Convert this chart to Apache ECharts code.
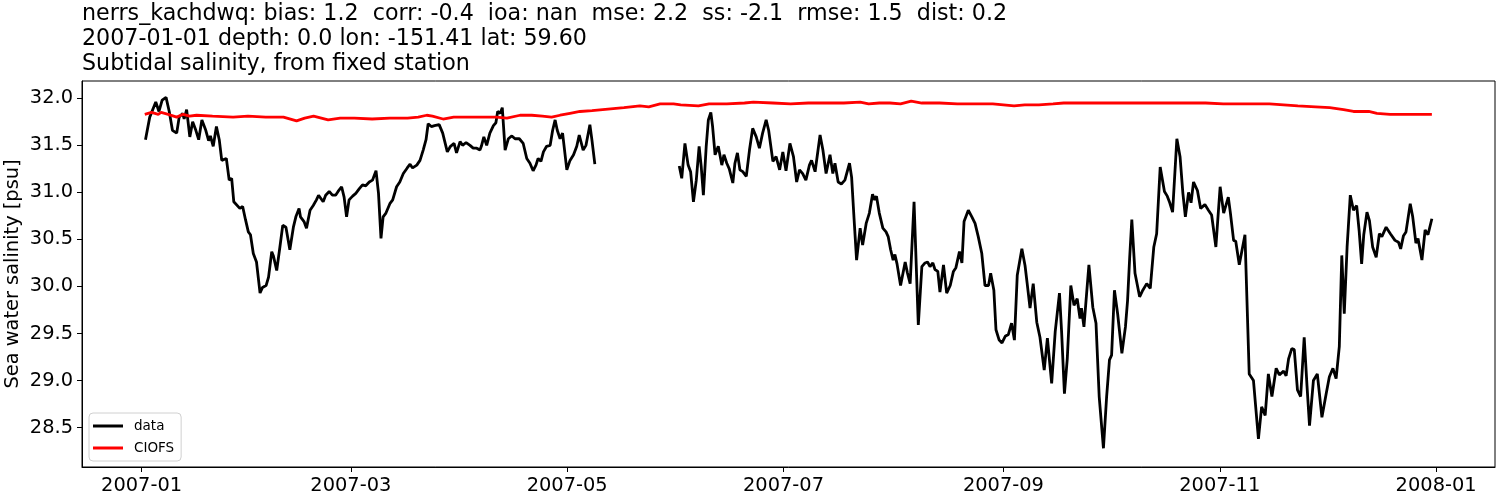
<!DOCTYPE html>
<html><head><meta charset="utf-8">
<script src="https://cdn.jsdelivr.net/npm/echarts@6/dist/echarts.min.js"></script>
<style>html,body{margin:0;padding:0;background:#fff}#c{width:1500px;height:500px}</style>
</head><body><div id="c"></div>
<script>
// days since 2007-01-01
const obsDays = [1.1,2.3,4.0,4.9,5.8,6.9,7.8,8.7,9.9,10.6,11.6,12.0,12.7,13.6,14.4,15.3,16.1,17.0,18.1,18.9,19.4,20.2,21.1,21.9,22.6,23.0,23.9,24.7,25.4,26.0,26.5,27.7,28.5,29.3,30.1,30.7,31.5,32.4,33.4,34.1,35.1,35.8,36.7,37.2,38.1,39.0,39.8,40.7,41.8,42.8,43.5,44.4,44.8,45.8,46.5,47.5,48.4,49.3,49.9,50.3,51.2,51.9,52.9,53.8,54.7,55.4,56.4,57.1,57.8,58.5,59.5,60.4,61.4,62.3,63.2,64.2,65.1,66.1,66.8,67.5,68.1,68.9,70.0,70.8,71.9,72.8,73.8,74.9,75.7,76.4,77.6,78.5,79.4,80.2,80.8,81.7,82.6,83.9,84.9,86.2,87.1,88.1,88.8,89.8,90.5,91.5,92.6,93.5,94.5,95.4,95.8,96.5,97.3,98.2,99.2,99.9,100.4,101.1,101.7,102.5,103.4,104.4,105.3,106.5,107.6,108.6,109.5,110.4,111.2,111.8,112.6,113.3,114.2,115.2,115.9,116.6,117.2,118.0,118.7,119.9,120.8,121.8,122.7,123.4,124.5,125.3,126.4,127.0,127.8,
140,
151.6,152.3,153.2,154.1,154.8,155.6,156.4,157.2,157.8,158.4,159.2,159.8,160.5,161.0,161.7,162.6,163.6,164.2,165.0,165.7,166.7,167.3,168.0,168.7,169.5,170.5,171.4,172.3,173.3,174.2,175.1,176.1,176.8,178.0,178.9,179.9,180.8,181.7,182.8,183.8,184.7,185.5,186.4,187.3,188.3,188.9,189.9,191.3,192.1,193.0,194.1,194.9,195.5,196.4,197.3,198.3,199.6,200.2,200.9,201.6,202.6,203.3,204.3,205.2,206.1,206.7,207.2,208.0,209.0,209.9,210.5,211.2,211.9,212.4,213.0,214.0,215.3,215.9,216.7,217.8,219.0,220.0,220.9,221.6,222.3,223.1,223.7,224.5,225.1,226.1,227.0,228.0,228.9,229.6,230.6,231.3,231.9,233.1,234.1,235.0,235.9,236.9,237.8,238.8,239.4,240.3,240.9,241.8,242.6,243.5,244.4,245.3,246.1,246.9,248.2,249.1,249.7,250.5,251.4,252.4,253.3,254.5,255.4,256.6,257.6,258.8,259.4,260.2,261.0,262.0,262.9,263.8,264.6,265.0,265.7,267.1,268.2,269.1,270.0,271.2,272.1,272.9,273.5,274.3,275.2,276.4,277.4,278.0,278.6,279.2,280.1,281.4,282.3,283.4,284.4,285.4,286.2,287.2,288.4,289.2,289.9,290.7,291.9,292.8,293.6,294.3,295.2,295.9,296.6,297.7,298.6,299.8,300.8,301.7,302.9,304.1,305.1,306.4,307.0,307.9,308.5,309.5,311.1,312.3,313.5,314.9,315.8,316.8,317.7,318.7,319.9,320.8,322.0,322.7,323.4,324.3,325.0,325.9,326.8,327.8,328.6,329.3,330.4,331.5,332.8,334.0,334.9,335.9,336.8,337.7,338.4,339.1,339.9,340.8,341.7,342.6,343.3,344.0,344.6,345.5,346.2,347.1,348.1,349.0,349.7,350.9,352.1,353.4,354.4,355.0,355.8,356.5,357.7,358.4,359.3,359.9,361.0,361.9,362.7,363.8];
const obsSalinity = [31.56,31.80,31.96,31.86,31.98,32.01,31.86,31.66,31.63,31.80,31.84,31.78,31.88,31.59,31.75,31.66,31.56,31.77,31.66,31.55,31.60,31.49,31.70,31.56,31.34,31.33,31.36,31.13,31.15,30.90,30.88,30.83,30.85,30.71,30.58,30.55,30.35,30.26,29.93,29.99,30.01,30.10,30.37,30.32,30.17,30.42,30.65,30.63,30.39,30.63,30.74,30.83,30.74,30.69,30.62,30.81,30.86,30.92,30.97,30.95,30.90,30.97,31.01,30.97,30.97,31.01,31.06,30.95,30.74,30.92,30.96,30.99,31.04,31.08,31.07,31.11,31.13,31.23,30.99,30.51,30.74,30.78,30.88,30.92,31.06,31.11,31.20,31.26,31.30,31.26,31.29,31.34,31.45,31.56,31.73,31.70,31.71,31.72,31.63,31.43,31.49,31.52,31.42,31.54,31.50,31.53,31.50,31.47,31.47,31.45,31.49,31.59,31.50,31.63,31.71,31.74,31.86,31.84,31.90,31.45,31.57,31.60,31.57,31.57,31.52,31.36,31.31,31.23,31.29,31.36,31.33,31.43,31.49,31.50,31.66,31.77,31.66,31.57,31.63,31.24,31.34,31.40,31.49,31.61,31.45,31.50,31.72,31.55,31.30,
null,
31.28,31.15,31.52,31.29,31.22,30.90,31.13,31.49,31.27,30.97,31.49,31.77,31.85,31.70,31.40,31.49,31.29,31.40,31.31,31.25,31.10,31.31,31.42,31.24,31.22,31.17,31.45,31.68,31.59,31.47,31.63,31.77,31.66,31.33,31.38,31.24,31.43,31.23,31.52,31.38,31.11,31.24,31.20,31.13,31.29,31.34,31.22,31.61,31.45,31.20,31.40,31.20,31.31,31.11,31.09,31.13,31.31,31.16,30.71,30.28,30.62,30.44,30.67,30.78,30.98,30.92,30.96,30.78,30.62,30.58,30.53,30.39,30.28,30.34,30.24,30.01,30.26,30.15,30.03,30.90,29.59,30.21,30.25,30.26,30.21,30.25,30.18,30.16,29.94,30.23,29.93,30.01,30.16,30.20,30.37,30.25,30.69,30.81,30.74,30.67,30.53,30.35,30.01,30.01,30.14,29.96,29.54,29.43,29.40,29.47,29.49,29.61,29.43,30.12,30.40,30.22,30.03,29.77,30.03,29.62,29.46,29.11,29.45,28.97,29.52,29.93,29.52,28.86,29.23,30.01,29.80,29.87,29.66,29.77,29.57,30.23,29.78,29.61,28.83,28.28,28.83,29.22,29.27,29.96,29.71,29.29,29.57,29.85,30.31,30.71,30.14,29.89,29.96,30.03,29.98,30.42,30.56,31.27,31.01,30.96,30.89,30.79,31.57,31.38,30.99,30.74,31.00,30.89,31.11,31.02,30.83,30.87,30.81,30.76,30.42,31.06,30.78,30.95,30.78,30.49,30.48,30.23,30.55,29.07,29.00,28.38,28.72,28.63,29.07,28.83,29.13,29.06,29.10,29.05,29.23,29.34,29.33,28.90,28.83,29.46,28.94,28.52,29.00,29.07,28.61,28.86,29.04,29.13,29.02,29.36,30.33,29.71,30.42,30.97,30.81,30.86,30.59,30.24,30.55,30.79,30.70,30.42,30.31,30.56,30.53,30.63,30.56,30.49,30.47,30.40,30.54,30.58,30.88,30.74,30.46,30.51,30.28,30.60,30.55,30.72];
const modelDays = [0.9,2.8,4.7,5.5,7.5,9.9,11.7,13.5,15.5,20,25.8,30,35,40,43.7,46,48.5,52.6,56,60,65,70,75,78,80.4,82,85,88,92,96,100,103,106.7,110,113,115.6,118,120.8,123.6,127,130,133,136,140.5,143,146.2,150,152,157,160,165,170,172.5,178,183,188,193,198,202.6,205,208,211,214,217,220,225,230,235,240,243,246,249,253,257,260,265,270,275,280,285,290,295,300,305,310,315,318,322,326,331,335,338.9,341.7,344,346,348.3,352,356,360,363.8];
const modelSalinity = [31.83,31.85,31.83,31.85,31.83,31.80,31.83,31.81,31.82,31.81,31.80,31.81,31.80,31.80,31.76,31.79,31.81,31.77,31.79,31.79,31.78,31.79,31.79,31.80,31.82,31.81,31.78,31.80,31.80,31.80,31.80,31.79,31.82,31.82,31.81,31.80,31.82,31.84,31.86,31.87,31.88,31.89,31.90,31.92,31.91,31.94,31.94,31.93,31.92,31.94,31.94,31.95,31.96,31.95,31.94,31.95,31.95,31.95,31.96,31.94,31.95,31.95,31.94,31.97,31.95,31.95,31.94,31.94,31.94,31.93,31.92,31.93,31.93,31.94,31.95,31.95,31.95,31.95,31.95,31.95,31.95,31.95,31.95,31.94,31.94,31.94,31.94,31.93,31.92,31.91,31.90,31.88,31.86,31.86,31.86,31.84,31.83,31.83,31.83,31.83];
const xTickDays = [0,59,120,181,243,304,365];
const xTickLabels = ['2007-01','2007-03','2007-05','2007-07','2007-09','2007-11','2008-01'];
const yTicks = [28.5,29.0,29.5,30.0,30.5,31.0,31.5,32.0];
const titleLines = [
  'nerrs_kachdwq: bias: 1.2  corr: -0.4  ioa: nan  mse: 2.2  ss: -2.1  rmse: 1.5  dist: 0.2',
  '2007-01-01 depth: 0.0 lon: -151.41 lat: 59.60',
  'Subtidal salinity, from fixed station'
];
const seriesNames = ['data','CIOFS'];
const yAxisName = 'Sea water salinity [psu]';

const FONT = 'DejaVu Sans';
const obsData = obsDays.map((d,i)=>[d, obsSalinity[i]===null ? '-' : obsSalinity[i]]);
const modelData = modelDays.map((d,i)=>[d, modelSalinity[i]]);

const chart = echarts.init(document.getElementById('c'), null, {renderer:'canvas'});
chart.setOption({
  animation:false,
  backgroundColor:'#fff',
  title:{
    text: titleLines.join('\n'),
    left:82, top:2, padding:0,
    textStyle:{fontFamily:FONT,fontSize:22.2,fontWeight:'normal',color:'#000',lineHeight:24.8}
  },
  legend:{
    orient:'vertical', left:89, top:413,
    data: seriesNames.map(n=>({name:n})),
    icon:'rect', itemWidth:30, itemHeight:3, itemGap:8,
    padding:[6,7,6,4],
    borderColor:'#d0d0d0', borderWidth:1, borderRadius:4, backgroundColor:'#fff',
    textStyle:{fontFamily:FONT,fontSize:13.5,color:'#000',padding:[0,0,0,6]}
  },
  grid:{left:82,right:5,top:81,bottom:33,outerBoundsMode:'none',containLabel:false,
    show:true,borderColor:'#000',borderWidth:1,backgroundColor:'transparent'},
  xAxis:{
    type:'value', min:-16.8, max:381.6,
    splitLine:{show:false},
    axisLine:{show:true,onZero:false,lineStyle:{color:'#000',width:1}},
    axisTick:{show:true,customValues:xTickDays,length:5,lineStyle:{color:'#000'}},
    axisLabel:{customValues:xTickDays,margin:9,fontFamily:FONT,fontSize:19.4,color:'#000',
      formatter:(v)=>{const i=xTickDays.indexOf(Math.round(v));return i>=0?xTickLabels[i]:'';}}
  },
  yAxis:{
    type:'value', min:28.081, max:32.184,
    name:yAxisName, nameLocation:'middle', nameGap:60, nameMoveOverlap:false,
    nameTextStyle:{fontFamily:FONT,fontSize:19.4,color:'#000'},
    splitLine:{show:false},
    axisLine:{show:true,onZero:false,lineStyle:{color:'#000',width:1}},
    axisTick:{show:true,customValues:yTicks,length:5,lineStyle:{color:'#000'}},
    axisLabel:{customValues:yTicks,margin:9,fontFamily:FONT,fontSize:19.4,color:'#000',
      formatter:(v)=>Number(v).toFixed(1)}
  },
  series:[
    {name:seriesNames[0],type:'line',data:obsData,showSymbol:false,symbol:'none',connectNulls:false,
     lineStyle:{color:'#000',width:2.8},itemStyle:{color:'#000'}},
    {name:seriesNames[1],type:'line',data:modelData,showSymbol:false,symbol:'none',
     lineStyle:{color:'#ff0000',width:2.8},itemStyle:{color:'#ff0000'}}
  ]
});
</script>
</body></html>
